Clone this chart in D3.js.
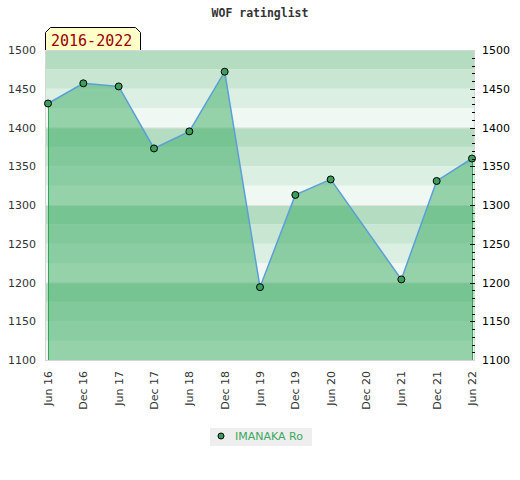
<!DOCTYPE html>
<html><head><meta charset="utf-8">
<script src="https://cdn.jsdelivr.net/npm/d3@7"></script>
<style>body{margin:0;background:#fff}svg{display:block}</style>
</head><body>
<svg id="c" width="520" height="480"></svg>
<script>
const title = "WOF ratinglist";
const tabLabel = "2016-2022";
const seriesName = "IMANAKA Ro";
const categories = ["Jun 16","Dec 16","Jun 17","Dec 17","Jun 18","Dec 18","Jun 19","Dec 19","Jun 20","Dec 20","Jun 21","Dec 21","Jun 22"];
const ratings = [1431, 1457, 1453, 1373, 1395, 1472, 1194, 1313, 1333, null, 1204, 1331, 1360];
const yTicks = [1100, 1150, 1200, 1250, 1300, 1350, 1400, 1450, 1500];
const bandColors = ["#f0f8f3", "#dcefe3", "#c8e6d2", "#b3dcc1"];

const svg = d3.select("#c");
const L = 45, R = 475, T = 50, B = 360;
const x = d3.scalePoint().domain(categories).range([48, 472]);
const y = d3.scaleLinear().domain([1100, 1500]).range([B, T]);

// bands
const bandStarts = d3.range(1100, 1500, 25);
svg.append("g").selectAll("rect").data(bandStarts).join("rect")
  .attr("x", L).attr("width", R - L)
  .attr("y", d => y(d + 25)).attr("height", d => y(d) - y(d + 25))
  .attr("fill", d => bandColors[((d - 1100) / 25) % 4]);
// grid lines
svg.append("g").selectAll("line").data(d3.range(1200, 1500, 100)).join("line")
  .attr("x1", L).attr("x2", R).attr("y1", d => y(d) + 0.5).attr("y2", d => y(d) + 0.5)
  .attr("stroke", "#e2e2e2").attr("stroke-width", 1);

const pts = categories.map((c, i) => ({c, v: ratings[i]})).filter(d => d.v != null);

// area
const area = d3.area().x(d => x(d.c)).y0(B).y1(d => y(d.v));
svg.append("path").datum(pts).attr("d", area)
  .attr("fill", "rgb(58,172,97)").attr("fill-opacity", 0.5);
// vertical edges
[pts[0], pts[pts.length - 1]].forEach(d => {
  svg.append("line").attr("x1", x(d.c) + 0.5).attr("x2", x(d.c) + 0.5)
    .attr("y1", y(d.v)).attr("y2", B).attr("stroke", "#2ea653").attr("stroke-width", 1);
});

// border
svg.append("rect").attr("x", L + 0.5).attr("y", T + 0.5).attr("width", R - L - 1).attr("height", B - T)
  .attr("fill", "none").attr("stroke", "#d6d6d6").attr("stroke-width", 1);

// line
const line = d3.line().x(d => x(d.c)).y(d => y(d.v));
svg.append("path").datum(pts).attr("d", line)
  .attr("fill", "none").attr("stroke", "#5b9fd8").attr("stroke-width", 1.5);

// markers
svg.append("g").selectAll("circle").data(pts).join("circle")
  .attr("cx", d => x(d.c)).attr("cy", d => y(d.v)).attr("r", 3.5)
  .attr("fill", "#3a9e5c").attr("stroke", "#000").attr("stroke-width", 1);

// right ticks
const minor = d3.range(1110, 1500, 10);
svg.append("g").selectAll("line").data(minor).join("line")
  .attr("x1", d => d % 50 === 0 ? R - 5 : R - 3).attr("x2", R)
  .attr("y1", d => Math.round(y(d)) + 0.5).attr("y2", d => Math.round(y(d)) + 0.5)
  .attr("stroke", "#000").attr("stroke-width", 1);

// y labels
const font = "'DejaVu Sans', sans-serif";
svg.append("g").selectAll("text").data(yTicks).join("text")
  .attr("x", 36).attr("y", d => y(d) + 4).attr("text-anchor", "end")
  .attr("font-family", font).attr("font-size", 11).attr("fill", "#333").text(d => d);
svg.append("g").selectAll("text").data(yTicks).join("text")
  .attr("x", 482).attr("y", d => y(d) + 4).attr("text-anchor", "start")
  .attr("font-family", font).attr("font-size", 11).attr("fill", "#000").text(d => d);

// x labels
svg.append("g").selectAll("text").data(categories).join("text")
  .attr("transform", d => `translate(${x(d) + 4},371) rotate(-90)`)
  .attr("text-anchor", "end")
  .attr("font-family", font).attr("font-size", 11).attr("fill", "#333").text(d => d);

// title
svg.append("text").attr("x", 260).attr("y", 17).attr("text-anchor", "middle")
  .attr("font-family", "'DejaVu Sans Mono', monospace").attr("font-weight", "bold")
  .attr("font-size", 11.5).attr("fill", "#333").text(title);

// tab
svg.append("path").attr("d", "M45.5,50 L45.5,32.5 L50.5,27.5 L135.5,27.5 L140.5,32.5 L140.5,50")
  .attr("fill", "#ffffc8").attr("stroke", "#000").attr("stroke-width", 1);
svg.append("text").attr("x", 51).attr("y", 46)
  .attr("font-family", "'DejaVu Sans Mono', monospace").attr("font-size", 15)
  .attr("fill", "#990000").text(tabLabel);

// legend
svg.append("rect").attr("x", 210).attr("y", 428).attr("width", 102).attr("height", 18).attr("fill", "#eeeeee");
svg.append("circle").attr("cx", 221).attr("cy", 436).attr("r", 3).attr("fill", "#3a9e5c").attr("stroke", "#000");
svg.append("text").attr("x", 235).attr("y", 440).attr("font-family", font).attr("font-size", 11)
  .attr("fill", "#3aa860").text(seriesName);
</script>
</body></html>
